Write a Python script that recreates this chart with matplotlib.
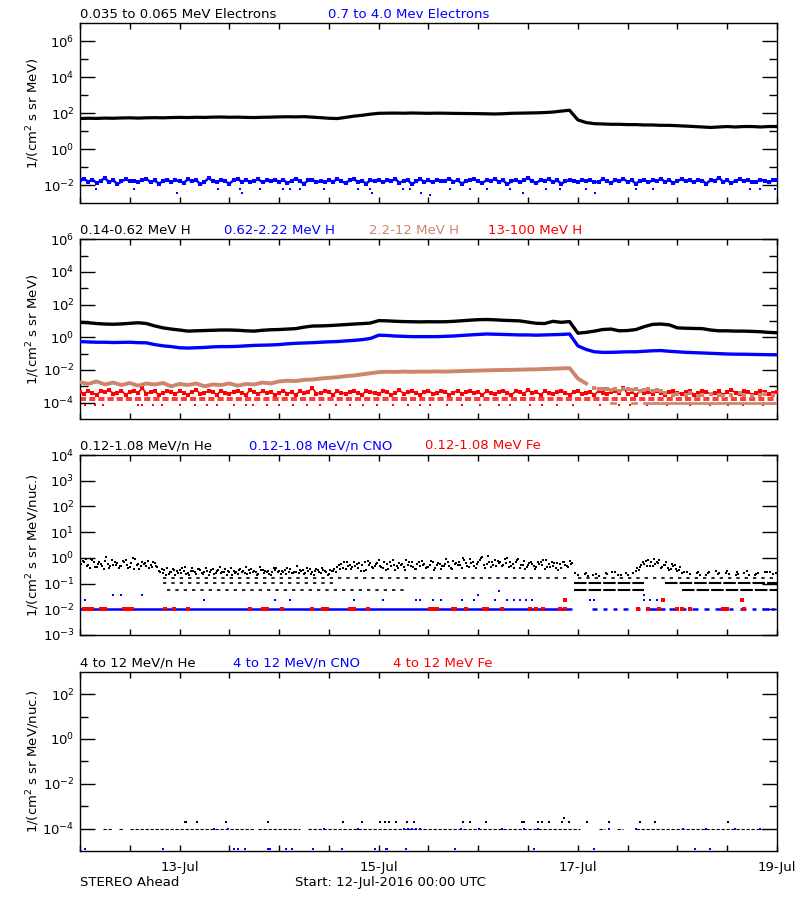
import numpy as np
import matplotlib
matplotlib.use("Agg")
import matplotlib.pyplot as plt
import matplotlib.dates as mdates
from matplotlib.ticker import FixedLocator, NullFormatter, NullLocator, FuncFormatter, LogFormatterSciNotation

plt.rcParams['font.family'] = ['DejaVu Sans']
FS = 9.5

BLACK = '#000000'
BLUE = '#0000FF'
BROWN = '#CD866C'
RED = '#FF0000'
nan = np.nan

# ---------------- data (time in hours after 12-Jul-2016 00:00 UTC) ----------------
# Panel 1: 0.035-0.065 MeV electrons, 2-hour samples
e_low = [50, 52, 51, 53, 52, 54, 55, 53, 55, 56, 55, 57,
         58, 57, 59, 58, 60, 61, 59, 60, 58, 57, 59, 60,
         62, 63, 62, 64, 60, 56, 52, 50, 58, 68, 76, 88,
         98, 100, 101, 99, 102, 100, 98, 100, 99, 97, 96, 95,
         94, 92, 90, 93, 98, 100, 102, 104, 108, 115, 130, 145,
         42, 30, 26, 25, 24, 24, 23, 23, 22, 22, 21, 21,
         20, 19, 18, 17, 16, 17, 18, 17, 18, 18, 17, 18,
         18]
# Panel 1: 0.7-4.0 MeV electrons, 1-hour samples (main band)
e_high = [0.018, 0.022, 0.015, 0.020, 0.013, 0.017, 0.025, 0.014, 0.019, 0.011, 0.016, 0.021,
          0.017, 0.016, 0.015, 0.019, 0.023, 0.014, 0.018, 0.012, 0.016, 0.020, 0.015, 0.018,
          0.017, 0.013, 0.021, 0.016, 0.019, 0.011, 0.015, 0.024, 0.017, 0.014, 0.020, 0.016,
          0.012, 0.018, 0.022, 0.015, 0.019, 0.015, 0.017, 0.021, 0.014, 0.018, 0.016, 0.020,
          0.015, 0.019, 0.013, 0.017, 0.023, 0.016, 0.012, 0.018, 0.020, 0.014, 0.017, 0.014,
          0.019, 0.015, 0.022, 0.016, 0.013, 0.018, 0.021, 0.015, 0.017, 0.012, 0.019, 0.016,
          0.020, 0.014, 0.018, 0.016, 0.022, 0.013, 0.017, 0.019, 0.011, 0.016, 0.021, 0.015,
          0.018, 0.014, 0.020, 0.016, 0.017, 0.023, 0.015, 0.019, 0.012, 0.016, 0.018, 0.021,
          0.016, 0.013, 0.019, 0.017, 0.022, 0.015, 0.018, 0.011, 0.016, 0.020, 0.014, 0.018,
          0.025, 0.016, 0.013, 0.019, 0.017, 0.021, 0.015, 0.018, 0.012, 0.016, 0.019, 0.017,
          0.014, 0.020, 0.016, 0.018, 0.015, 0.015, 0.021, 0.017, 0.013, 0.019, 0.016, 0.022,
          0.015, 0.018, 0.012, 0.017, 0.020, 0.014, 0.018, 0.016, 0.023, 0.015, 0.019, 0.013,
          0.017, 0.021, 0.016, 0.018, 0.014, 0.020, 0.017, 0.012, 0.019, 0.016, 0.026, 0.015,
          0.018, 0.013, 0.017, 0.021, 0.016, 0.019, 0.014, 0.015, 0.020, 0.017, 0.014, 0.018,
          0.019]
# Panel 1: isolated low 0.7-4.0 MeV electron points
e_high_out_hours = [3.9, 12.9, 33.3, 38.6, 43.4, 49, 50.6, 53, 58.7, 67.1, 69.9, 77.9, 79.5, 89.1,
                    94, 98, 103.6, 112.4, 115.6, 122, 134.1, 138.1, 161.4, 163.8, 167.4,
                    23.3, 39, 70.3, 82.3, 106.8, 124.1, 84.3]
e_high_out_vals = [0.006] * 25 + [0.0037] * 6 + [0.0027]

# Panel 2: protons, 2-hour samples
h_014 = [8.2, 7.8, 7.0, 6.5, 6.3, 6.6, 7.2, 7.8, 7.0, 5.0, 3.8, 3.2,
         2.8, 2.4, 2.5, 2.6, 2.7, 2.8, 2.8, 2.7, 2.5, 2.4, 2.7, 2.9,
         3.0, 3.2, 3.4, 4.2, 4.9, 5.0, 5.2, 5.6, 6.0, 6.5, 6.9, 7.5,
         10.5, 10.2, 9.6, 9.2, 9.0, 8.8, 9.0, 8.9, 9.0, 9.5, 10.3, 11.2,
         12.0, 12.3, 11.8, 11.0, 10.6, 10.1, 8.5, 7.2, 7.0, 9.5, 8.3, 9.2,
         1.8, 2.0, 2.4, 3.0, 3.2, 2.5, 2.6, 3.0, 4.5, 6.2, 6.5, 5.8,
         3.8, 3.6, 3.5, 3.4, 2.8, 2.5, 2.5, 2.4, 2.4, 2.3, 2.2, 2.0,
         1.9]
h_062 = [0.55, 0.52, 0.50, 0.50, 0.48, 0.49, 0.50, 0.47, 0.46, 0.36, 0.30, 0.27,
         0.23, 0.22, 0.23, 0.24, 0.26, 0.27, 0.27, 0.28, 0.30, 0.32, 0.33, 0.34,
         0.36, 0.40, 0.43, 0.45, 0.47, 0.50, 0.53, 0.55, 0.60, 0.65, 0.72, 0.85,
         1.35, 1.30, 1.20, 1.15, 1.10, 1.10, 1.10, 1.10, 1.15, 1.20, 1.30, 1.40,
         1.50, 1.60, 1.55, 1.50, 1.45, 1.40, 1.40, 1.35, 1.40, 1.45, 1.50, 1.60,
         0.30, 0.18, 0.13, 0.12, 0.12, 0.125, 0.13, 0.13, 0.14, 0.15, 0.155, 0.14,
         0.13, 0.12, 0.115, 0.11, 0.105, 0.10, 0.095, 0.093, 0.092, 0.09, 0.088, 0.086,
         0.085]
# 2.2-12 MeV H: 2-hour samples for hours 0..122
h_22 = [1.8e-3, 1.4e-3, 2.0e-3, 1.3e-3, 1.7e-3, 1.2e-3, 1.6e-3, 1.1e-3, 1.5e-3, 1.3e-3, 1.6e-3, 1.0e-3,
        1.4e-3, 1.2e-3, 1.5e-3, 1.0e-3, 1.3e-3, 1.2e-3, 1.5e-3, 1.1e-3, 1.4e-3, 1.3e-3, 1.7e-3, 1.5e-3,
        2.0e-3, 2.2e-3, 2.1e-3, 2.5e-3, 2.6e-3, 3.0e-3, 3.3e-3, 3.6e-3, 4.2e-3, 4.6e-3, 5.4e-3, 6.3e-3,
        7.4e-3, 7.8e-3, 7.6e-3, 8.0e-3, 7.7e-3, 8.0e-3, 7.9e-3, 8.2e-3, 8.0e-3, 8.3e-3, 8.6e-3, 8.9e-3,
        9.2e-3, 9.5e-3, 9.8e-3, 1.0e-2, 1.02e-2, 1.05e-2, 1.08e-2, 1.1e-2, 1.15e-2, 1.2e-2, 1.25e-2, 1.3e-2,
        3.0e-3, 1.5e-3]
# 2.2-12 MeV H after the drop: 1-hour samples for hours 124..168
h_22_late = [8e-4, 6.5e-4, 6.5e-4, 7e-4, 6e-4, 6.5e-4, 5.5e-4, 6.5e-4, 7e-4, 6e-4, 6.5e-4, 5.5e-4,
             6e-4, 6.5e-4, 5e-4, 6e-4, 5.5e-4,
             4e-4, nan, 3e-4, 3.5e-4, nan, 3e-4, 4e-4, nan, 2.5e-4, 3e-4, nan, 3.5e-4, nan, 3e-4,
             2.5e-4, nan, 3e-4, nan, 4e-4, 3e-4, nan, 2.5e-4, nan, 3e-4, 3.5e-4, nan, 3e-4, nan]
h_22_floor = [nan, nan, 1e-4, nan, 1e-4, 1e-4, nan, 1e-4, nan, 1e-4, 1e-4, nan, 1e-4,
              1e-4, 1e-4, 1e-4, 1e-4, 1e-4, 1e-4, 1e-4, 1e-4, 1e-4, 1e-4, 1e-4, 1e-4,
              1e-4, 1e-4, 1e-4, 1e-4, 1e-4, 1e-4, 1e-4, 1e-4, 1e-4, 1e-4, 1e-4, 1e-4,
              1e-4, 1e-4, 1e-4, 1e-4, 1e-4, 1e-4, 1e-4, 1e-4]
# 13-100 MeV H: 1-hour samples
h_13 = [4.5e-4, 3.5e-4, 5.5e-4, 4.0e-4, 3.0e-4, 5.0e-4, 4.5e-4, 6.0e-4, 3.5e-4, 4.0e-4, 5.5e-4, 3.0e-4,
        4.5e-4, 5.0e-4, 4.0e-4, 8.0e-4, 3.5e-4, 4.5e-4, 5.0e-4, 3.0e-4, 4.0e-4, 5.5e-4, 4.5e-4, 3.5e-4,
        5.0e-4, 4.0e-4, 3.0e-4, 4.5e-4, 6.0e-4, 3.5e-4, 4.0e-4, 5.0e-4, 4.5e-4, 3.0e-4, 5.5e-4, 4.0e-4,
        3.5e-4, 4.5e-4, 5.0e-4, 4.0e-4, 3.0e-4, 6.0e-4, 4.5e-4, 3.5e-4, 5.0e-4, 4.0e-4, 4.5e-4, 3.0e-4,
        4.0e-4, 5.5e-4, 3.5e-4, 4.5e-4, 3.0e-4, 5.0e-4, 4.0e-4, 4.5e-4, 8.0e-4, 3.5e-4, 4.0e-4, 5.0e-4,
        4.5e-4, 3.0e-4, 5.5e-4, 4.0e-4, 3.5e-4, 4.5e-4, 5.0e-4, 4.0e-4, 3.0e-4, 5.5e-4, 4.5e-4, 4.0e-4,
        3.5e-4, 5.0e-4, 4.5e-4, 3.0e-4, 4.0e-4, 6.0e-4, 3.5e-4, 4.5e-4, 5.0e-4, 4.0e-4, 3.0e-4, 4.5e-4,
        5.5e-4, 3.5e-4, 4.0e-4, 5.0e-4, 4.5e-4, 3.0e-4, 4.0e-4, 5.5e-4, 3.5e-4, 4.5e-4, 5.0e-4, 4.0e-4,
        4.5e-4, 3.0e-4, 5.0e-4, 4.0e-4, 3.5e-4, 4.5e-4, 5.5e-4, 4.0e-4, 3.0e-4, 5.0e-4, 4.5e-4, 3.5e-4,
        6.0e-4, 4.0e-4, 4.5e-4, 3.0e-4, 5.0e-4, 4.0e-4, 3.5e-4, 4.5e-4, 5.5e-4, 4.0e-4, 3.0e-4, 4.5e-4,
        5.0e-4, 3.5e-4, 4.0e-4, 4.5e-4, 3.0e-4, 5.5e-4, 4.0e-4, 3.5e-4, 4.5e-4, 5.0e-4, 4.0e-4, 8.0e-4,
        3.5e-4, 4.5e-4, 3.0e-4, 5.0e-4, 4.0e-4, 4.5e-4, 3.5e-4, 5.5e-4, 4.0e-4, 3.0e-4, 4.5e-4, 5.0e-4,
        4.0e-4, 3.5e-4, 4.5e-4, 5.0e-4, 3.0e-4, 4.0e-4, 5.5e-4, 4.5e-4, 3.5e-4, 4.0e-4, 5.0e-4, 3.0e-4,
        4.5e-4, 6.0e-4, 4.0e-4, 3.5e-4, 5.0e-4, 4.5e-4, 3.0e-4, 4.0e-4, 5.5e-4, 4.5e-4, 3.5e-4, 4.0e-4,
        4.5e-4]
h_13_rows = [2.0e-4, 1.4e-4]
h_13_low_val = 7e-5
h_13_low_hours = [1.2, 3.6, 5.6, 14, 14.9, 17.7, 19.7, 24, 27.7, 30.5, 33, 37, 40, 41.8, 45, 48,
                  51.4, 54.6, 57.8, 61.8, 65, 68.3, 71.5, 75.5, 79, 82, 84.4, 88.4, 92, 96.4,
                  100.9, 103.7, 108.5, 111.3, 114.9, 118.9, 125.4, 129.8, 132.6, 136.6, 141.4,
                  147, 151.9, 156.3, 159.9, 164.7]

# Panel 3: 0.12-1.08 MeV/n He, three 1-hour sample sets (offsets 0, 20, 40 min)
he_a = [0.95, 0.70, 0.55, 0.85, 0.45, 0.60, 0.75, 0.40, 0.55, 0.65, 0.50, 0.80, 0.45, 0.38, 0.60, 0.70, 0.48, 0.55, 0.62,
        0.32, 0.25, 0.40, 0.28, 0.22, 0.35, 0.30, 0.26, 0.42, 0.24, 0.33, 0.28, 0.21, 0.36, 0.30, 0.25, 0.38, 0.27,
        0.32, 0.23, 0.29, 0.45, 0.26, 0.31, 0.24, 0.35, 0.28, 0.22, 0.33, 0.30, 0.27, 0.40, 0.25, 0.29, 0.34, 0.23,
        0.31, 0.28, 0.37, 0.26, 0.32, 0.24, 0.30,
        0.45, 0.60, 0.38, 0.52, 0.70, 0.42, 0.55, 0.35, 0.62, 0.48, 0.80, 0.40, 0.58, 0.50, 0.33, 0.65, 0.45, 0.55,
        0.72, 0.38, 0.50, 0.60, 0.43, 0.68, 0.52, 0.36, 0.58, 0.47, 0.75, 0.55, 0.40, 0.62, 0.90, 0.50, 0.70, 1.05,
        0.58, 0.45, 0.85, 0.62, 0.52, 0.95, 0.48, 0.66, 0.40, 0.78, 0.55, 0.60, 0.44, 0.70, 0.36, 0.58, 0.50, 0.65,
        0.42, 0.55, 0.75,
        nan, 0.22, nan, 0.26, nan, nan, 0.20, nan, 0.24, nan, 0.28, nan, nan, 0.21, nan,
        0.30, 0.45, 0.60, 0.85, 0.50, 0.70, 0.40, 0.55, 0.35, 0.48, 0.30, 0.26,
        nan, 0.24, nan, 0.27, nan, 0.22, nan, nan, 0.25, nan, 0.30, nan, 0.21, nan, 0.26, nan, nan, 0.23, nan,
        0.28, nan, 0.24, nan]
he_b = [0.60, 0.88, 0.42, 0.72, 0.58, 0.50, 1.10, 0.47, 0.68, 0.40, 0.78, 0.52, 0.63, 0.90, 0.36, 0.56, 0.75, 0.44, 0.50,
        0.27, 0.34, 0.23, 0.38, 0.30, 0.26, 0.44, 0.21, 0.31, 0.36, 0.25, 0.40, 0.28, 0.24, 0.33, 0.29, 0.22, 0.41,
        0.26, 0.35, 0.31, 0.24, 0.37, 0.28, 0.43, 0.25, 0.32, 0.27, 0.39, 0.23, 0.34, 0.29, 0.26, 0.48, 0.30, 0.25,
        0.36, 0.22, 0.33, 0.40, 0.27, 0.35, 0.38,
        0.55, 0.40, 0.68, 0.36, 0.48, 0.62, 0.30, 0.75, 0.44, 0.58, 0.50, 0.66, 0.38, 0.85, 0.47, 0.55, 0.34, 0.70,
        0.45, 0.60, 0.78, 0.42, 0.55, 0.35, 0.65, 0.50, 0.88, 0.40, 0.56, 0.70, 0.95, 0.48, 0.62, 0.42, 0.80, 0.55,
        1.15, 0.68, 0.50, 0.72, 0.90, 0.45, 0.60, 0.82, 0.55, 0.38, 0.65, 0.48, 0.72, 0.52, 0.85, 0.44, 0.62, 0.35,
        0.70, 0.48, 0.58,
        0.25, nan, nan, 0.19, nan, 0.23, nan, nan, nan, 0.27, nan, 0.22, nan, nan, 0.25,
        0.40, 0.55, 0.75, 0.48, 0.92, 0.62, 0.45, 0.66, 0.38, 0.52, 0.34, nan,
        0.28, nan, nan, 0.22, nan, 0.26, nan, 0.30, nan, nan, 0.23, nan, 0.27, nan, nan, 0.21, nan, 0.25, nan,
        nan, 0.29, nan, 0.22]
he_c = [0.75, 0.50, 0.92, 0.45, 0.66, 0.38, 0.58, 0.85, 0.52, 0.47, 0.70, 0.42, 0.95, 0.55, 0.48, 0.64, 0.40, 0.72, 0.46,
        0.36, 0.22, 0.29, 0.33, 0.26, 0.41, 0.24, 0.31, 0.28, 0.37, 0.23, 0.30, 0.34, 0.26, 0.44, 0.27, 0.32, 0.22,
        0.29, 0.38, 0.25, 0.33, 0.28, 0.21, 0.35, 0.30, 0.24, 0.42, 0.27, 0.31, 0.23, 0.36, 0.29, 0.26, 0.33, 0.40,
        0.24, 0.30, 0.27, 0.35, 0.22, 0.31, 0.28,
        0.38, 0.66, 0.50, 0.44, 0.58, 0.32, 0.72, 0.52, 0.40, 0.64, 0.46, 0.35, 0.70, 0.55, 0.42, 0.60, 0.82, 0.48,
        0.38, 0.66, 0.54, 0.44, 0.76, 0.40, 0.58, 0.48, 0.68, 0.36, 0.62, 0.52, 0.85, 0.45, 0.72, 0.58, 1.00, 0.42,
        0.66, 0.54, 0.78, 0.48, 0.62, 0.70, 0.40, 0.88, 0.55, 0.46, 0.68, 0.38, 0.60, 0.80, 0.45, 0.66, 0.40, 0.56,
        0.72, 0.46, 0.62,
        nan, nan, 0.24, nan, 0.21, nan, nan, 0.26, nan, nan, 0.22, nan, 0.25, nan, nan,
        0.35, 0.66, 0.48, 0.70, 0.58, 0.80, 0.52, 0.42, 0.60, 0.36, 0.44, 0.28,
        nan, nan, 0.25, nan, nan, 0.29, nan, 0.23, nan, 0.26, nan, nan, 0.24, nan, 0.30, nan, 0.22, nan, nan,
        0.27, nan, 0.25, nan]
# He count-floor rows: (level, start hour, end hour)
he_rows_sparse = [(0.17, 20, 118), (0.17, 120, 168), (0.11, 20, 62), (0.055, 21, 78)]
he_rows_dense = [(0.11, 119, 136), (0.11, 141, 168), (0.055, 119, 136), (0.055, 145, 168)]
# CNO: floor row at 0.01 (start, end hours) and isolated higher points
cno_row_level = 0.01
cno_row_spans = [(0, 118.6), (123.5, 124.5), (126, 127), (128.5, 129.5), (131, 132), (134, 135),
                 (136.5, 141), (142, 143.5), (145, 146), (147.5, 149), (150.5, 151.5), (153, 155),
                 (156.5, 157.5), (159, 160.5), (162, 163), (164.5, 166), (166.5, 167.5)]
cno_pt_hours = [1.2, 30, 47, 50.6, 66, 73, 81, 82, 85, 87, 92, 95, 100, 103, 104.5, 106, 107.5, 109,
                123, 124, 136, 137.5, 139, 140.5, 8, 10, 15, 96, 136, 101]
cno_pt_vals = [0.023] * 24 + [0.036] * 5 + [0.05]
# Fe
fe_hours = [1, 2, 3, 5, 6, 10.5, 11.5, 12.5, 20.6, 22.7, 26, 41, 44, 45, 48.7, 56, 58.5, 59.5, 65, 66,
            69.5, 84.4, 85, 86, 89.8, 90.5, 93, 97.4, 98.2, 101.7, 108.5, 110, 111.6, 115.8, 117,
            134.5, 137, 139.5, 144, 145, 147, 155, 156, 160, 117, 140.5, 159.5]
fe_vals = [0.01] * 44 + [0.023] * 3

# Panel 4: 4-12 MeV/n ions
he4_row_level = 1e-4
he4_row_spans = [(5.5, 8), (9.5, 10.5), (12, 42), (43, 53), (55, 120.5), (125, 126.5), (129.5, 131),
                 (134, 166)]
he4_pt_hours = [25.2, 25.6, 28.1, 35.1, 45.4, 63.5, 67.9, 72.2, 73.5, 74.4, 76.2, 78.9, 80.5, 92.2,
                94.0, 97.8, 106.5, 107, 110.3, 111.3, 113, 116.2, 117.8, 122.2, 127.6, 134.9, 138.7,
                156.2, 116.6]
he4_pt_vals = [2e-4] * 28 + [3e-4]
cno4_hours = [1.3, 20, 37, 38, 39.7, 45.4, 45.8, 49.7, 51, 56.1, 63.2, 71.1, 73.8, 74, 78.5, 90.3,
              109.5, 123.8, 148.3, 151.9,
              32.4, 35.7, 58.9, 67, 78, 79, 80, 81, 82, 91.9, 96.2, 101.6, 107, 110.3, 127.6, 134,
              145.4, 150.8, 157.8, 163.8]
cno4_vals = [1.2e-5] * 20 + [1e-4] * 20

# ---------------- plotting ----------------
T0 = mdates.date2num(np.datetime64('2016-07-12T00:00'))
T1 = mdates.date2num(np.datetime64('2016-07-19T00:00'))


def hx(h):
    return T0 + np.asarray(h, dtype=float) / 24.0


def sx(values, step_h, start_h=0.0):
    return hx(start_h + step_h * np.arange(len(values)))


W, H = 800.0, 900.0
fig = plt.figure(figsize=(8, 9), dpi=100)


def axes_px(top, bottom, left=80, right=777):
    return fig.add_axes([left / W, 1 - bottom / H, (right - left) / W, (bottom - top) / H])


def xfmt(v, pos):
    h = int(round((v - T0) * 24))
    if h % 48 == 24:
        return mdates.num2date(v).strftime('%d-%b')
    return ''


def style(ax, ylim, major, minor, ylabel, xlabels=False):
    ax.set_yscale('log')
    ax.set_ylim(*ylim)
    ax.set_xlim(T0, T1)
    ax.yaxis.set_major_locator(FixedLocator(major))
    if minor:
        ax.yaxis.set_minor_locator(FixedLocator(minor))
    else:
        ax.yaxis.set_minor_locator(NullLocator())
    ax.yaxis.set_major_formatter(LogFormatterSciNotation())
    ax.yaxis.set_minor_formatter(NullFormatter())
    ax.xaxis.set_major_locator(mdates.HourLocator(byhour=[0, 12]))
    ax.xaxis.set_minor_locator(NullLocator())
    ax.xaxis.set_major_formatter(FuncFormatter(xfmt))
    ax.tick_params(axis='y', which='major', direction='in', length=10.8, width=1.0,
                   left=True, right=True, labelsize=FS, pad=4)
    ax.tick_params(axis='y', which='minor', direction='in', length=5.8, width=1.0,
                   left=True, right=True)
    ax.tick_params(axis='x', which='major', direction='in', length=4.3, width=1.0,
                   top=True, bottom=True, labelsize=FS, pad=7, labelbottom=xlabels)
    for sp in ax.spines.values():
        sp.set_linewidth(1.0)
    ax.set_ylabel(ylabel, fontsize=FS)
    ax.yaxis.set_label_coords(-0.0545, 0.5)


def ftxt(xpx, ypx, s, color=BLACK):
    fig.text(xpx / W, 1 - ypx / H, s, color=color, fontsize=FS, va='baseline', ha='left')


def pts(ax, x, y, color, ms=1.7, z=3):
    ax.plot(x, y, 's', ms=ms, mew=0, color=color, ls='none', zorder=z)


ylab1 = r'1/(cm$^2$ s sr MeV)'
ylab2 = r'1/(cm$^2$ s sr MeV/nuc.)'

# Panel 1
ax1 = axes_px(23.3, 203)
style(ax1, (1e-3, 1e7), [1e-2, 1, 1e2, 1e4, 1e6], [1e-1, 1e1, 1e3, 1e5], ylab1)
ax1.plot(sx(e_high, 1), e_high, '-', lw=1.8, color=BLUE, zorder=2)
pts(ax1, sx(e_high, 1), e_high, BLUE, ms=2.4)
pts(ax1, hx(e_high_out_hours), e_high_out_vals, BLUE, ms=2.0)
ax1.plot(sx(e_low, 2), e_low, '-', lw=2.3, color=BLACK, zorder=4)
ftxt(80, 18, '0.035 to 0.065 MeV Electrons', BLACK)
ftxt(328, 18, '0.7 to 4.0 Mev Electrons', BLUE)

# Panel 2
ax2 = axes_px(239.3, 419)
style(ax2, (1e-5, 1e6), [1e-4, 1e-2, 1, 1e2, 1e4, 1e6], [1e-3, 1e-1, 1e1, 1e3, 1e5], ylab1)
t_end = hx(168)
for lev in h_13_rows:
    ax2.hlines(lev, T0, t_end, colors=RED, lw=1.1, linestyles=(0, (4, 2)), zorder=2)
pts(ax2, hx(h_13_low_hours), [h_13_low_val] * len(h_13_low_hours), RED, ms=2.0)
ax2.plot(sx(h_13, 1), h_13, '-', lw=1.3, color=RED, zorder=2)
pts(ax2, sx(h_13, 1), h_13, RED, ms=2.2)
ax2.plot(sx(h_22, 2), h_22, '-', lw=2.8, color=BROWN, zorder=3)
ax2.plot(sx(h_22_late, 1, 124), h_22_late, '-', lw=1.2, color=BROWN, zorder=3)
pts(ax2, sx(h_22_late, 1, 124), h_22_late, BROWN, ms=2.2)
ax2.plot(sx(h_22_floor, 1, 124), h_22_floor, '-', lw=2.0, color=BROWN, zorder=3)
ax2.plot(sx(h_062, 2), h_062, '-', lw=2.4, color=BLUE, zorder=4)
ax2.plot(sx(h_014, 2), h_014, '-', lw=2.4, color=BLACK, zorder=5)
ftxt(80, 234, '0.14-0.62 MeV H', BLACK)
ftxt(224, 234, '0.62-2.22 MeV H', BLUE)
ftxt(369, 234, '2.2-12 MeV H', BROWN)
ftxt(488, 234, '13-100 MeV H', RED)

# Panel 3
ax3 = axes_px(455, 635)
style(ax3, (1e-3, 1e4), [1e-3, 1e-2, 1e-1, 1, 1e1, 1e2, 1e3, 1e4], [], ylab2)
for lev, a, b in he_rows_sparse:
    ax3.hlines(lev, hx(a), hx(b), colors=BLACK, lw=1.2, linestyles=(0, (2, 3)), zorder=3)
for lev, a, b in he_rows_dense:
    ax3.hlines(lev, hx(a), hx(b), colors=BLACK, lw=1.5, linestyles=(0, (6, 1)), zorder=3)
pts(ax3, sx(he_a, 1), he_a, BLACK, ms=1.8)
pts(ax3, sx(he_b, 1, 1 / 3), he_b, BLACK, ms=1.8)
pts(ax3, sx(he_c, 1, 2 / 3), he_c, BLACK, ms=1.8)
for a, b in cno_row_spans:
    ax3.hlines(cno_row_level, hx(a), hx(b), colors=BLUE, lw=1.8, zorder=3)
pts(ax3, hx(cno_pt_hours), cno_pt_vals, BLUE, ms=2.0)
pts(ax3, hx(fe_hours), fe_vals, RED, ms=2.2, z=4)
ftxt(80, 449, '0.12-1.08 MeV/n He', BLACK)
ftxt(249, 449, '0.12-1.08 MeV/n CNO', BLUE)
ftxt(425, 449, '0.12-1.08 MeV Fe', RED)

# Panel 4
ax4 = axes_px(671.7, 851)
style(ax4, (1e-5, 1e3), [1e-4, 1e-2, 1, 1e2], [1e-3, 1e-1, 1e1], ylab2, xlabels=True)
for a, b in he4_row_spans:
    ax4.hlines(he4_row_level, hx(a), hx(b), colors=BLACK, lw=0.8, linestyles=(0, (3, 1.5)), zorder=3)
pts(ax4, hx(he4_pt_hours), he4_pt_vals, BLACK, ms=2.0)
pts(ax4, hx(cno4_hours), cno4_vals, BLUE, ms=2.0, z=4)
ftxt(80, 667, '4 to 12 MeV/n He', BLACK)
ftxt(233, 667, '4 to 12 MeV/n CNO', BLUE)
ftxt(393, 667, '4 to 12 MeV Fe', RED)

ftxt(80, 886, 'STEREO Ahead', BLACK)
ftxt(295, 886, 'Start: 12-Jul-2016 00:00 UTC', BLACK)

fig.savefig('out.png', dpi=100)
